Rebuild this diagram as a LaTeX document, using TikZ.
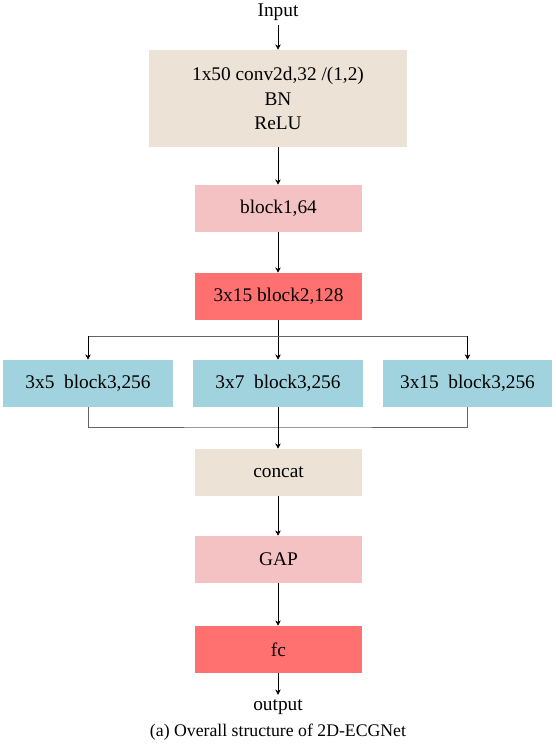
\documentclass[tikz,border=0pt]{standalone}
\usepackage{fontspec}
\setmainfont{Liberation Serif}
\usepackage{xcolor}
\usetikzlibrary{arrows.meta,positioning}

\definecolor{beige}{RGB}{237,226,214}
\definecolor{pinkish}{RGB}{244,194,194}
\definecolor{salmon}{RGB}{255,112,112}
\definecolor{lightteal}{RGB}{161,211,222}
\definecolor{wire}{RGB}{100,100,100}

\newdimen\px \px=0.75pt

\tikzset{
	blockbox/.style = {minimum width=167\px, minimum height=47\px, inner sep=0pt, align=center},
	branchbox/.style = {blockbox, fill=lightteal, minimum width=170\px},
	arr/.style = {-{Stealth[length=4pt, width=4pt]}, black},
}

\begin{document}
\begin{tikzpicture}[x=0.75pt, y=-0.75pt, font=\fontsize{14.5pt}{16.5pt}\selectfont]
	\useasboundingbox (0,0) rectangle (556,747);
	\node (in) at (278,12) {Input};
	\node[blockbox, fill=beige, minimum width=258\px, minimum height=97\px, font=\fontsize{14.5pt}{18.3pt}\selectfont] (conv) at (278,98.5) {1x50 conv2d,32 /(1,2)\\ BN\\ ReLU};
	\node[blockbox, fill=pinkish] (b1) at (278.5,208.5) {block1,64};
	\node[blockbox, fill=salmon] (b2) at (278.5,296.5) {3x15 block2,128};
	\node[branchbox] (b3a) at (88,383.5) {3x5\ \ block3,256};
	\node[branchbox] (b3b) at (278,383.5) {3x7\ \ block3,256};
	\node[branchbox, minimum width=169\px] (b3c) at (467.5,383.5) {3x15\ \ block3,256};
	\node[blockbox, fill=beige] (cat) at (278.5,472.5) {concat};
	\node[blockbox, fill=pinkish] (gap) at (278.5,559.5) {GAP};
	\node[blockbox, fill=salmon] (fc) at (278.5,649.5) {fc};
	\node (out) at (278,707) {output};
	\node[font=\fontsize{13.3pt}{15pt}\selectfont] (cap) at (278,732) {(a) Overall structure of 2D-ECGNet};
	\coordinate (split) at (278,336);
	\coordinate (join) at (278,427);
	% main trunk
	\draw[arr] (in) -- (conv.north -| in);
	\draw[arr] (conv.south -| in) -- (b1.north -| in);
	\draw[arr] (b1.south -| in) -- (b2.north -| in);
	\draw[arr] (b2.south -| in) -- (b3b.north -| in);
	% branches
	\draw[wire] (split -| b3a) -- (split -| b3c);
	\draw[arr] (split -| b3a) -- (b3a.north);
	\draw[arr] (split -| b3c) -- (b3c.north);
	\draw[wire] (b3a.south) |- (join) -| (b3c.south);
	\draw[arr] (b3b.south -| in) -- (cat.north -| in);
	\draw[arr] (cat.south -| in) -- (gap.north -| in);
	\draw[arr] (gap.south -| in) -- (fc.north -| in);
	\draw[arr] (fc.south -| in) -- (out);
\end{tikzpicture}
\end{document}
